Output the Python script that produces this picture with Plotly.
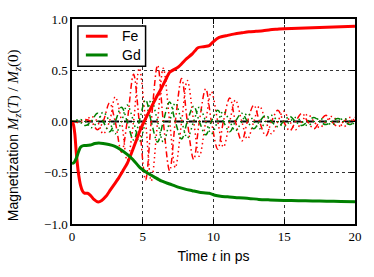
import plotly.graph_objects as go

# ---- main curves ----
fe_t = [0, 0.1, 0.2, 0.3, 0.45, 0.6, 0.75, 0.9, 1.1, 1.3, 1.55, 1.85, 2.1, 2.4, 2.7, 3.0,
        3.3, 3.6, 3.9, 4.2, 4.5, 4.8, 5.1, 5.5, 5.9, 6.3, 6.7, 6.9, 7.5, 8.0, 8.5, 8.9,
        9.3, 9.7, 10.0, 10.4, 11.0, 11.5, 12.0, 12.5, 13.0, 13.5, 14.0, 14.5, 15.0, 16.0,
        17.0, 18.0, 19.0, 20.0]
fe_v = [0, -0.03, -0.12, -0.3, -0.5, -0.62, -0.68, -0.70, -0.70, -0.72, -0.76, -0.785,
        -0.77, -0.73, -0.67, -0.61, -0.55, -0.48, -0.41, -0.31, -0.2, -0.09, 0.0, 0.11,
        0.22, 0.32, 0.43, 0.48, 0.53, 0.6, 0.66, 0.72, 0.73, 0.74, 0.78, 0.82, 0.84, 0.855,
        0.865, 0.875, 0.88, 0.885, 0.895, 0.9, 0.905, 0.91, 0.915, 0.92, 0.925, 0.93]

gd_t = [0, 0.15, 0.3, 0.45, 0.6, 0.8, 1.0, 1.3, 1.6, 1.9, 2.2, 2.6, 3.0, 3.4, 3.9, 4.3,
        4.8, 5.3, 5.8, 6.3, 6.9, 7.5, 8.0, 8.5, 9.0, 9.7, 10.1, 10.5, 11.0, 11.8, 12.5,
        13.2, 14.0, 15.0, 16.0, 17.0, 18.0, 19.0, 20.0]
gd_v = [-0.41, -0.40, -0.36, -0.30, -0.25, -0.235, -0.235, -0.23, -0.215, -0.21, -0.215,
        -0.225, -0.24, -0.27, -0.32, -0.37, -0.45, -0.50, -0.54, -0.58, -0.61, -0.64, -0.66,
        -0.675, -0.69, -0.70, -0.72, -0.73, -0.735, -0.745, -0.75, -0.76, -0.765, -0.77,
        -0.772, -0.775, -0.778, -0.78, -0.782]

# ---- transverse (precessing) components ----
osc_t = [0.0, 0.1, 0.5, 0.95, 1.35, 1.8, 2.2, 2.65, 3.05, 3.5, 3.9, 4.35, 4.75, 5.2, 5.6,
         6.05, 6.45, 6.9, 7.3, 7.75, 8.15, 8.6, 9.0, 9.45, 9.85, 10.3, 10.7, 11.15, 11.55,
         12.0, 12.4, 12.85, 13.25, 13.7, 14.1, 14.55, 14.95, 15.4, 15.8, 16.25, 16.65,
         17.1, 17.5, 17.95, 18.35, 18.8, 19.2, 19.65, 20.0]
fe_x = [0, 0, 0, 0.02, 0, -0.08, 0, 0.18, 0, -0.30, 0, 0.46, 0, -0.57, 0, 0.55, 0, -0.48,
        0, 0.42, 0, -0.37, 0, 0.32, 0, -0.27, 0, 0.23, 0, -0.19, 0, 0.16, 0, -0.14, 0, 0.11,
        0, -0.09, 0, 0.08, 0, -0.07, 0, 0.06, 0, -0.05, 0, 0.04, 0]
fe_y = [0, 0, -0.01, 0, 0.05, 0, -0.12, 0, 0.24, 0, -0.38, 0, 0.52, 0, -0.58, 0, 0.52, 0,
        -0.45, 0, 0.40, 0, -0.34, 0, 0.29, 0, -0.25, 0, 0.21, 0, -0.17, 0, 0.15, 0, -0.12,
        0, 0.10, 0, -0.08, 0, 0.07, 0, -0.06, 0, 0.05, 0, -0.05, 0, 0.04]
gd_x = [0, 0, 0, -0.04, 0, 0.08, 0, -0.10, 0, 0.14, 0, -0.18, 0, 0.21, 0, -0.20, 0, 0.19,
        0, -0.17, 0, 0.15, 0, -0.13, 0, 0.11, 0, -0.10, 0, 0.08, 0, -0.07, 0, 0.06, 0,
        -0.05, 0, 0.05, 0, -0.04, 0, 0.04, 0, -0.03, 0, 0.03, 0, -0.03, 0]
gd_y = [0, 0, 0.02, 0, -0.06, 0, 0.09, 0, -0.12, 0, 0.16, 0, -0.20, 0, 0.21, 0, -0.20, 0,
        0.18, 0, -0.16, 0, 0.14, 0, -0.12, 0, 0.10, 0, -0.09, 0, 0.08, 0, -0.07, 0, 0.06,
        0, -0.05, 0, 0.04, 0, -0.04, 0, 0.03, 0, -0.03, 0, 0.03, 0, -0.03]

x_ticks = [0, 5, 10, 15, 20]
y_ticks = [-1.0, -0.5, 0.0, 0.5, 1.0]
y_tick_text = ["\u22121.0", "\u22120.5", "0.0", "0.5", "1.0"]
legend_names = ["Fe", "Gd"]

RED = "#ff0000"
GREEN = "#008000"

fig = go.Figure()

def osc(t, v, color, dash):
    fig.add_trace(go.Scatter(x=t, y=v, mode="lines", showlegend=False, hoverinfo="skip",
                             line=dict(color=color, width=1.5, dash=dash, shape="spline", smoothing=1.0)))

osc(osc_t, fe_x, RED, "6px,3px,1.5px,3px")
osc(osc_t, fe_y, RED, "1.5px,3px")
osc(osc_t, gd_x, GREEN, "6px,3px,1.5px,3px")
osc(osc_t, gd_y, GREEN, "1.5px,3px")

fig.add_hline(y=0, line=dict(color="black", width=2, dash="8px,5px"), layer="below")

fig.add_trace(go.Scatter(x=fe_t, y=fe_v, mode="lines", name=legend_names[0], showlegend=False,
                         line=dict(color=RED, width=3, shape="spline", smoothing=0.6)))
fig.add_trace(go.Scatter(x=gd_t, y=gd_v, mode="lines", name=legend_names[1], showlegend=False,
                         line=dict(color=GREEN, width=3, shape="spline", smoothing=0.6)))

serif = "Liberation Serif, serif"
sans = "Liberation Sans, Arial, sans-serif"

axis_common = dict(showline=True, linewidth=1.5, linecolor="black", mirror="allticks",
                   ticks="inside", ticklen=5, tickwidth=1, tickcolor="black",
                   showgrid=True, gridcolor="#333", gridwidth=1, griddash="dot",
                   zeroline=False, tickfont=dict(family=serif, size=13, color="black"))

fig.update_xaxes(range=[0, 20], tickvals=x_ticks, ticktext=[str(v) for v in x_ticks],
                 title=dict(text="Time <span style=\"font-family:'Liberation Serif';font-size:15px\"><i>t</i></span> in ps",
                            font=dict(family=sans, size=14, color="black"), standoff=8),
                 **axis_common)
fig.update_yaxes(range=[-1, 1], tickvals=y_ticks, ticktext=y_tick_text, **axis_common)

math = ("<span style=\"font-family:'Liberation Serif';font-size:15px\">"
        "<i>M<sub>z</sub></i>(<i>T</i>) / <i>M<sub>z</sub></i>(0)</span>")
fig.add_annotation(xref="paper", yref="paper", x=-0.205, y=0.433, textangle=-90,
                   showarrow=False, xanchor="center", yanchor="middle",
                   text="Magnetization " + math,
                   font=dict(family=sans, size=14, color="black"))

# ---- legend box (drawn in paper coordinates) ----
fig.add_shape(type="rect", xref="paper", yref="paper", x0=0.021, x1=0.26, y0=0.769, y1=0.966,
              line=dict(color="black", width=1.5), fillcolor="white", layer="above")
for i, (name, col) in enumerate(zip(legend_names, [RED, GREEN])):
    yy = 0.916 - i * 0.0915
    fig.add_shape(type="line", xref="paper", yref="paper", x0=0.049, x1=0.126, y0=yy, y1=yy,
                  line=dict(color=col, width=3), layer="above")
    fig.add_annotation(xref="paper", yref="paper", x=0.168, y=yy, text=name, showarrow=False,
                       xanchor="left", yanchor="middle",
                       font=dict(family=sans, size=14, color="black"))

fig.update_layout(
    width=374, height=277,
    margin=dict(l=72, r=17, t=16, b=53),
    plot_bgcolor="white", paper_bgcolor="white",
    showlegend=False,
)

fig.write_html("out.html", config={"displayModeBar": False},
               post_script="document.body.style.margin='0';")
